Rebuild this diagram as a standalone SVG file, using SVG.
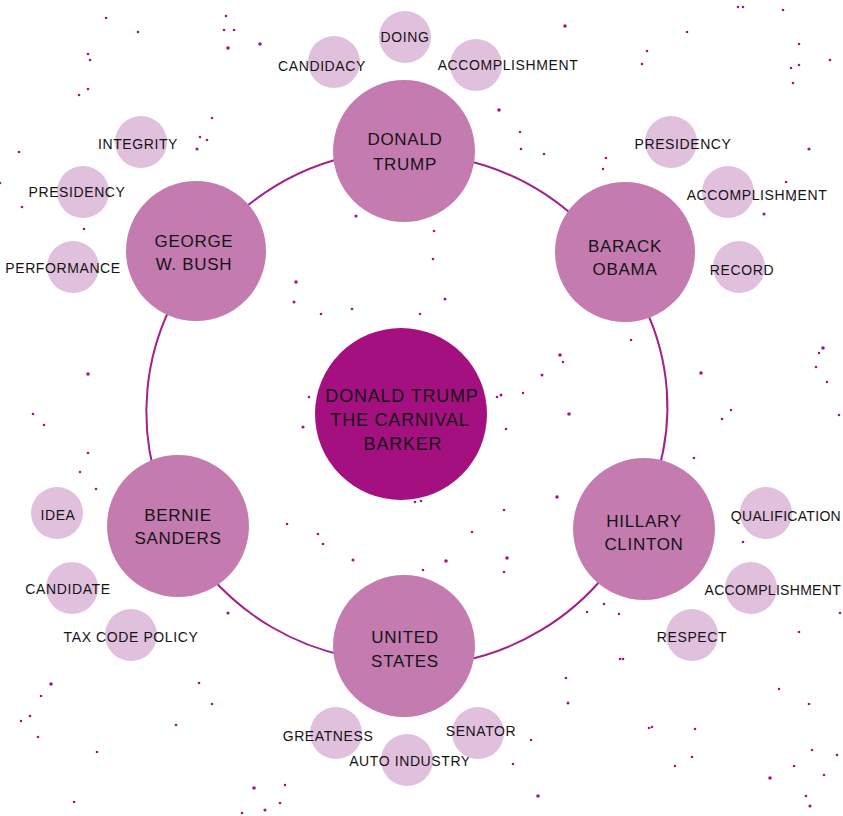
<svg xmlns="http://www.w3.org/2000/svg" width="843" height="816" viewBox="0 0 843 816">
<style>
.bg{fill:#ffffff}
.dot{fill:#a0187f}
.con{fill:none;stroke:#a3228a;stroke-width:2;stroke-linecap:round}
.center{fill:#a51080}
.main{fill:#c47bb0}
.sub{fill:#e1c0dd}
text{font-family:"Liberation Sans","Open Sans",Arial,sans-serif;fill:#141414;text-anchor:middle}
.t1{font-size:18px;letter-spacing:0.8px}
.t2{font-size:17px;letter-spacing:0.7px}
.t3{font-size:14px;letter-spacing:0.6px}
.ed{text-anchor:end;letter-spacing:0.3px}
</style>
<rect class="bg" x="0" y="0" width="843" height="816"/>
<g id="dots">
<circle class="dot" cx="106" cy="18" r="1.3"/><circle class="dot" cx="138" cy="32" r="1.3"/><circle class="dot" cx="226" cy="16" r="1.3"/><circle class="dot" cx="224" cy="30" r="1.3"/><circle class="dot" cx="234" cy="30" r="1.3"/><circle class="dot" cx="228" cy="48" r="1.8"/><circle class="dot" cx="260" cy="44" r="1.8"/><circle class="dot" cx="88" cy="54" r="1.3"/><circle class="dot" cx="90" cy="60" r="1.3"/><circle class="dot" cx="88" cy="89" r="1.3"/><circle class="dot" cx="79" cy="95" r="1.3"/><circle class="dot" cx="212" cy="118" r="1.3"/><circle class="dot" cx="565" cy="26" r="1.8"/><circle class="dot" cx="499" cy="110" r="1.8"/><circle class="dot" cx="738" cy="7" r="1.3"/><circle class="dot" cx="743" cy="7" r="1.3"/><circle class="dot" cx="783" cy="10" r="1.3"/><circle class="dot" cx="687" cy="32" r="1.3"/><circle class="dot" cx="647" cy="51" r="1.3"/><circle class="dot" cx="642" cy="64" r="1.3"/><circle class="dot" cx="799" cy="44" r="1.3"/><circle class="dot" cx="830" cy="60" r="1.3"/><circle class="dot" cx="791" cy="68" r="1.3"/><circle class="dot" cx="799" cy="65" r="1.3"/><circle class="dot" cx="793" cy="83" r="1.3"/>
<circle class="dot" cx="200" cy="137" r="1.3"/><circle class="dot" cx="207" cy="140" r="1.3"/><circle class="dot" cx="197" cy="149" r="1.6"/><circle class="dot" cx="19" cy="152" r="1.3"/><circle class="dot" cx="0" cy="183" r="1.3"/><circle class="dot" cx="22" cy="207" r="1.3"/><circle class="dot" cx="84" cy="229" r="1.3"/>
<circle class="dot" cx="520" cy="132" r="1.3"/><circle class="dot" cx="521" cy="149" r="1.3"/><circle class="dot" cx="544" cy="154" r="1.3"/><circle class="dot" cx="606" cy="158" r="1.3"/><circle class="dot" cx="603" cy="169" r="1.3"/><circle class="dot" cx="809" cy="149" r="1.6"/><circle class="dot" cx="786" cy="182" r="1.3"/><circle class="dot" cx="794" cy="200" r="1.3"/><circle class="dot" cx="764" cy="214" r="1.6"/>
<circle class="dot" cx="356" cy="216" r="1.6"/><circle class="dot" cx="434" cy="231" r="1.3"/><circle class="dot" cx="433" cy="259" r="1.3"/><circle class="dot" cx="296" cy="282" r="1.8"/><circle class="dot" cx="294" cy="302" r="1.5"/><circle class="dot" cx="321" cy="314" r="1.3"/><circle class="dot" cx="352" cy="309" r="1.3"/><circle class="dot" cx="420" cy="314" r="1.3"/><circle class="dot" cx="445" cy="299" r="1.5"/><circle class="dot" cx="631" cy="340" r="1.3"/><circle class="dot" cx="560" cy="355" r="1.8"/><circle class="dot" cx="563" cy="362" r="1.3"/><circle class="dot" cx="542" cy="375" r="1.5"/><circle class="dot" cx="501" cy="395" r="1.5"/><circle class="dot" cx="497" cy="397" r="1.3"/><circle class="dot" cx="523" cy="393" r="1.3"/><circle class="dot" cx="569" cy="414" r="1.8"/><circle class="dot" cx="506" cy="429" r="1.3"/><circle class="dot" cx="309" cy="397" r="1.3"/><circle class="dot" cx="303" cy="427" r="1.6"/><circle class="dot" cx="415" cy="502" r="1.3"/><circle class="dot" cx="421" cy="501" r="1.3"/><circle class="dot" cx="557" cy="497" r="1.8"/><circle class="dot" cx="504" cy="510" r="1.3"/><circle class="dot" cx="287" cy="524" r="1.3"/><circle class="dot" cx="318" cy="534" r="1.3"/><circle class="dot" cx="323" cy="544" r="1.3"/><circle class="dot" cx="472" cy="532" r="1.3"/><circle class="dot" cx="353" cy="560" r="1.5"/><circle class="dot" cx="446" cy="561" r="1.8"/><circle class="dot" cx="507" cy="558" r="1.8"/><circle class="dot" cx="504" cy="572" r="1.3"/><circle class="dot" cx="423" cy="570" r="1.3"/><circle class="dot" cx="228" cy="613" r="1.6"/><circle class="dot" cx="604" cy="604" r="1.3"/><circle class="dot" cx="587" cy="612" r="1.3"/><circle class="dot" cx="619" cy="614" r="1.3"/>
<circle class="dot" cx="88" cy="374" r="1.8"/><circle class="dot" cx="33" cy="414" r="1.3"/><circle class="dot" cx="44" cy="425" r="1.3"/><circle class="dot" cx="88" cy="453" r="1.3"/><circle class="dot" cx="80" cy="472" r="1.3"/><circle class="dot" cx="96" cy="489" r="1.3"/>
<circle class="dot" cx="823" cy="348" r="1.8"/><circle class="dot" cx="819" cy="353" r="1.3"/><circle class="dot" cx="816" cy="367" r="1.3"/><circle class="dot" cx="827" cy="382" r="1.3"/><circle class="dot" cx="701" cy="373" r="1.8"/><circle class="dot" cx="731" cy="410" r="1.3"/><circle class="dot" cx="722" cy="419" r="1.3"/><circle class="dot" cx="839" cy="415" r="1.3"/><circle class="dot" cx="694" cy="458" r="1.3"/>
<circle class="dot" cx="743" cy="542" r="1.3"/><circle class="dot" cx="799" cy="632" r="1.3"/><circle class="dot" cx="840" cy="613" r="1.3"/><circle class="dot" cx="620" cy="659" r="1.3"/>
<circle class="dot" cx="51" cy="684" r="1.8"/><circle class="dot" cx="41" cy="696" r="1.3"/><circle class="dot" cx="199" cy="683" r="1.3"/><circle class="dot" cx="212" cy="704" r="1.3"/><circle class="dot" cx="30" cy="716" r="1.3"/><circle class="dot" cx="21" cy="721" r="1.3"/><circle class="dot" cx="176" cy="725" r="1.3"/><circle class="dot" cx="38" cy="737" r="1.3"/><circle class="dot" cx="97" cy="752" r="1.3"/><circle class="dot" cx="254" cy="788" r="1.8"/><circle class="dot" cx="285" cy="785" r="1.3"/><circle class="dot" cx="74" cy="802" r="1.3"/><circle class="dot" cx="280" cy="803" r="1.3"/><circle class="dot" cx="265" cy="810" r="1.6"/><circle class="dot" cx="242" cy="813" r="1.3"/><circle class="dot" cx="623" cy="659" r="1.3"/><circle class="dot" cx="566" cy="678" r="1.3"/><circle class="dot" cx="568" cy="703" r="1.5"/><circle class="dot" cx="531" cy="740" r="1.3"/><circle class="dot" cx="513" cy="764" r="1.3"/><circle class="dot" cx="538" cy="796" r="1.8"/><circle class="dot" cx="779" cy="689" r="1.3"/><circle class="dot" cx="809" cy="704" r="1.3"/><circle class="dot" cx="649" cy="728" r="1.3"/><circle class="dot" cx="652" cy="727" r="1.3"/><circle class="dot" cx="695" cy="729" r="1.3"/><circle class="dot" cx="812" cy="750" r="1.3"/><circle class="dot" cx="837" cy="755" r="1.3"/><circle class="dot" cx="692" cy="757" r="1.3"/><circle class="dot" cx="675" cy="766" r="1.3"/><circle class="dot" cx="794" cy="766" r="1.3"/><circle class="dot" cx="770" cy="778" r="1.8"/><circle class="dot" cx="824" cy="775" r="1.3"/><circle class="dot" cx="806" cy="796" r="1.3"/><circle class="dot" cx="810" cy="806" r="1.6"/>
</g>
<g id="connectors">
<path class="con" d="M 460 159 A 250 250 0 0 1 578 220"/>
<path class="con" d="M 646 310 A 230 230 0 0 1 658 472"/>
<path class="con" d="M 606 574 A 250 250 0 0 1 462 661"/>
<path class="con" d="M 346 656 A 250 250 0 0 1 210 576"/>
<path class="con" d="M 154 472 A 240 240 0 0 1 170 308"/>
<path class="con" d="M 240 212 A 250 250 0 0 1 346 157"/>
</g>
<g id="node-center">
<circle class="center" cx="401" cy="414" r="86"/>
<text class="t1" x="402" y="402">DONALD TRUMP</text>
<text class="t1" x="400" y="426">THE CARNIVAL</text>
<text class="t1" x="403" y="450">BARKER</text>
</g>
<g id="node-trump">
<circle class="main" cx="404" cy="151" r="71"/>
<text class="t2" x="405" y="145">DONALD</text>
<text class="t2" x="405" y="170">TRUMP</text>
</g>
<g id="node-obama">
<circle class="main" cx="625" cy="252" r="70"/>
<text class="t2" x="625" y="252">BARACK</text>
<text class="t2" x="625" y="275">OBAMA</text>
</g>
<g id="node-hillary">
<circle class="main" cx="644" cy="529" r="71"/>
<text class="t2" x="644" y="527">HILLARY</text>
<text class="t2" x="644" y="550">CLINTON</text>
</g>
<g id="node-us">
<circle class="main" cx="404" cy="646" r="71"/>
<text class="t2" x="405" y="643">UNITED</text>
<text class="t2" x="405" y="667">STATES</text>
</g>
<g id="node-bernie">
<circle class="main" cx="178" cy="526" r="71"/>
<text class="t2" x="178" y="521">BERNIE</text>
<text class="t2" x="178" y="544">SANDERS</text>
</g>
<g id="node-bush">
<circle class="main" cx="196" cy="251" r="70"/>
<text class="t2" x="194" y="247">GEORGE</text>
<text class="t2" x="194" y="270">W. BUSH</text>
</g>
<g id="trump-candidacy"><circle class="sub" cx="334" cy="62" r="26"/><text class="t3" x="322" y="71">CANDIDACY</text></g>
<g id="trump-doing"><circle class="sub" cx="405" cy="37" r="26"/><text class="t3" x="405" y="42">DOING</text></g>
<g id="trump-accomplishment"><circle class="sub" cx="476" cy="65" r="26"/><text class="t3" x="508" y="70">ACCOMPLISHMENT</text></g>
<g id="obama-presidency"><circle class="sub" cx="671" cy="142" r="26"/><text class="t3" x="683" y="149">PRESIDENCY</text></g>
<g id="obama-accomplishment"><circle class="sub" cx="728" cy="192" r="26"/><text class="t3" x="757" y="200">ACCOMPLISHMENT</text></g>
<g id="obama-record"><circle class="sub" cx="739" cy="267" r="26"/><text class="t3" x="742" y="275">RECORD</text></g>
<g id="bush-integrity"><circle class="sub" cx="141" cy="142" r="26"/><text class="t3" x="138" y="149">INTEGRITY</text></g>
<g id="bush-presidency"><circle class="sub" cx="83" cy="192" r="26"/><text class="t3" x="77" y="197">PRESIDENCY</text></g>
<g id="bush-performance"><circle class="sub" cx="73" cy="267" r="26"/><text class="t3" x="63" y="273">PERFORMANCE</text></g>
<g id="hillary-qualification"><circle class="sub" cx="766" cy="513" r="26"/><text class="t3 ed" x="841" y="521">QUALIFICATION</text></g>
<g id="hillary-accomplishment"><circle class="sub" cx="751" cy="588" r="26"/><text class="t3 ed" x="841" y="595">ACCOMPLISHMENT</text></g>
<g id="hillary-respect"><circle class="sub" cx="692" cy="635" r="26"/><text class="t3" x="692" y="642">RESPECT</text></g>
<g id="bernie-idea"><circle class="sub" cx="57" cy="513" r="26"/><text class="t3" x="58" y="520">IDEA</text></g>
<g id="bernie-candidate"><circle class="sub" cx="72" cy="588" r="26"/><text class="t3" x="68" y="594">CANDIDATE</text></g>
<g id="bernie-taxcode"><circle class="sub" cx="131" cy="635" r="26"/><text class="t3" x="131" y="642">TAX CODE POLICY</text></g>
<g id="us-greatness"><circle class="sub" cx="336" cy="733" r="26"/><text class="t3" x="328" y="741">GREATNESS</text></g>
<g id="us-auto"><circle class="sub" cx="407" cy="760" r="26"/><text class="t3" x="410" y="766">AUTO INDUSTRY</text></g>
<g id="us-senator"><circle class="sub" cx="478" cy="733" r="26"/><text class="t3" x="481" y="736">SENATOR</text></g>
</svg>
